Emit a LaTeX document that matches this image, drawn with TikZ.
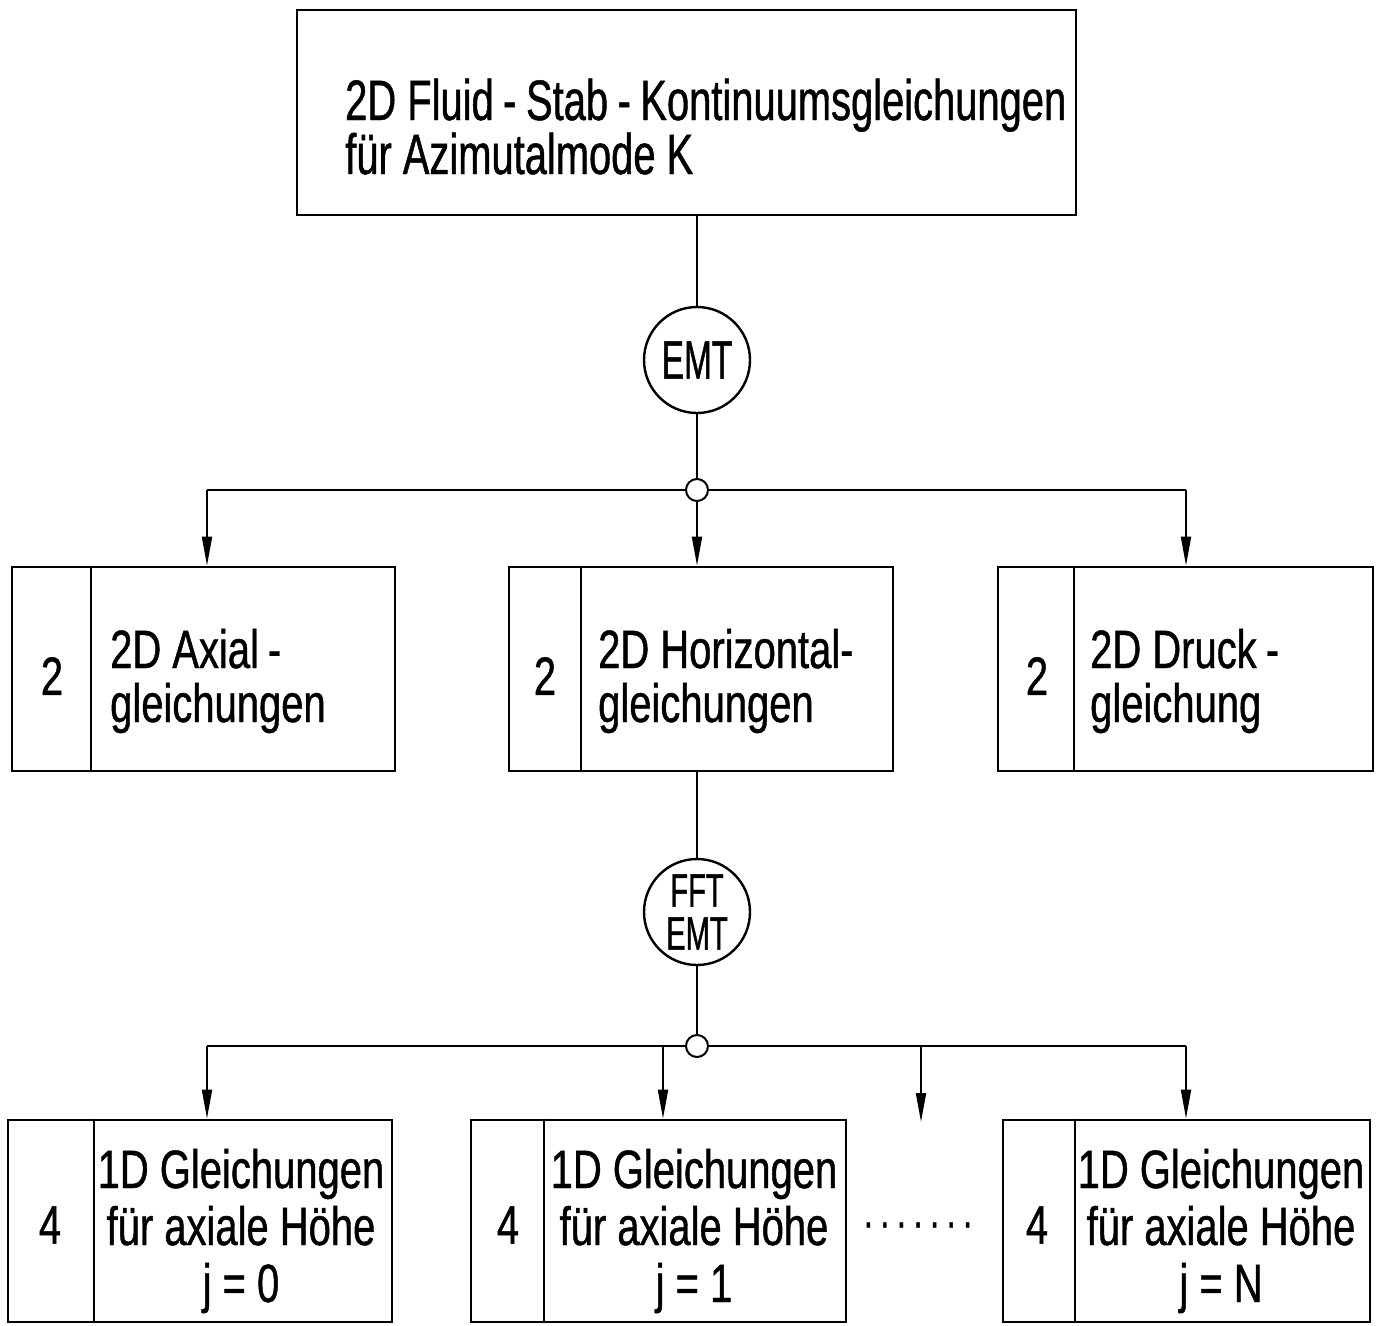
\documentclass[tikz,border=0pt]{standalone}
\usepackage{fontspec}
\setmainfont{Liberation Sans}[FakeStretch=0.74,FakeBold=0.8]
\newfontfamily\condfam{Liberation Sans}[FakeStretch=0.62,FakeBold=0.8]
\newfontfamily\topfam{Liberation Sans}[FakeStretch=0.70,FakeBold=0.8]
\usetikzlibrary{arrows.meta}
\newcommand{\fsTop}{\topfam\fontsize{57}{60}\selectfont}
\newcommand{\fsMid}{\fontsize{54}{56}\selectfont}
\newcommand{\fsCirc}{\condfam\fontsize{54}{56}\selectfont}
\newcommand{\fsCircS}{\condfam\fontsize{47}{43}\selectfont}
\begin{document}
\begin{tikzpicture}[x=1pt,y=-1pt,
  box/.style={draw, line width=2.8pt, rectangle, inner sep=0pt},
  div/.style={line width=2pt},
  conn/.style={line width=2pt},
  arr/.style={line width=2pt, -{Triangle[length=29pt,width=10pt]}},
  circ/.style={draw, circle, line width=2.4pt, minimum size=106pt, inner sep=0pt},
  junc/.style={draw, circle, line width=2pt, minimum size=22pt, inner sep=0pt, fill=white},
  txt/.style={inner sep=0pt, font=\fsMid},
  ttop/.style={inner sep=0pt, font=\fsTop, anchor=base west}]
\useasboundingbox (0,0) rectangle (1381,1325);

% top box
\node[box, minimum width=779pt, minimum height=205pt] (top) at (686.5,112.5) {};
\node[ttop] (t1) at (345,120) {2D Fluid\,-\,Stab\,-\,Kontinuumsgleichungen};
\node[ttop] (t2) at (345,174) {für Azimutalmode K};

% EMT circle
\node[circ, font=\fsCirc] (emt) at (697,360) {EMT};
\draw[conn] (emt |- top.south) -- (emt);
\node[junc] (j1) at (697,490) {};
\draw[conn] (emt) -- (j1);
\coordinate (b1L) at (207,490);
\coordinate (b1R) at (1186,490);
\draw[conn] (j1.west) -- (b1L);
\draw[conn] (j1.east) -- (b1R);

% middle boxes
\node[box, minimum width=383pt, minimum height=204pt] (bA) at (203.5,669) {};
\node[box, minimum width=384pt, minimum height=204pt] (bB) at (701,669) {};
\node[box, minimum width=375pt, minimum height=204pt] (bC) at (1185.5,669) {};
\draw[div] ([xshift=80pt]bA.north west) -- ([xshift=80pt]bA.south west);
\draw[div] ([xshift=73pt]bB.north west) -- ([xshift=73pt]bB.south west);
\draw[div] ([xshift=77pt]bC.north west) -- ([xshift=77pt]bC.south west);
\node[txt] (nA) at (52,676) {2};
\node[txt] (nB) at (545,676) {2};
\node[txt] (nC) at (1037,676) {2};
\node[txt, anchor=base west] (tA1) at (110,668) {2D Axial\,-};
\node[txt, anchor=base west] (tA2) at (110,722) {gleichungen};
\node[txt, anchor=base west] (tB1) at (598,668) {2D Horizontal-};
\node[txt, anchor=base west] (tB2) at (598,722) {gleichungen};
\node[txt, anchor=base west] (tC1) at (1090,668) {2D Druck\,-};
\node[txt, anchor=base west] (tC2) at (1090,722) {gleichung};

\draw[arr] (b1L) -- (b1L |- bA.north);
\draw[arr] (j1) -- (j1 |- bB.north);
\draw[arr] (b1R) -- (b1R |- bC.north);

% FFT/EMT circle
\node[circ, font=\fsCircS, align=center] (fft) at (697,912) {FFT\\EMT};
\draw[conn] (fft |- bB.south) -- (fft);
\node[junc] (j2) at (697,1046) {};
\draw[conn] (fft) -- (j2);
\coordinate (b2L) at (207,1046);
\coordinate (b2R) at (1186,1046);
\coordinate (b2M) at (663,1046);
\coordinate (b2X) at (921,1046);
\coordinate (xend) at (921,1122);
\draw[conn] (j2.west) -- (b2L);
\draw[conn] (j2.east) -- (b2R);

% bottom boxes
\node[box, minimum width=384pt, minimum height=202pt] (bD) at (200,1221) {};
\node[box, minimum width=375pt, minimum height=202pt] (bE) at (658.5,1221) {};
\node[box, minimum width=367pt, minimum height=202pt] (bF) at (1186.5,1221) {};
\draw[div] ([xshift=87pt]bD.north west) -- ([xshift=87pt]bD.south west);
\draw[div] ([xshift=74pt]bE.north west) -- ([xshift=74pt]bE.south west);
\draw[div] ([xshift=73pt]bF.north west) -- ([xshift=73pt]bF.south west);
\node[txt] (nD) at (50,1225) {4};
\node[txt] (nE) at (508,1225) {4};
\node[txt] (nF) at (1037,1225) {4};
\node[txt, anchor=base] (tD1) at (241,1188) {1D Gleichungen};
\node[txt, anchor=base] (tD2) at (241,1245) {für axiale Höhe};
\node[txt, anchor=base] (tD3) at (241,1302) {j = 0};
\node[txt, anchor=base] (tE1) at (694,1188) {1D Gleichungen};
\node[txt, anchor=base] (tE2) at (694,1245) {für axiale Höhe};
\node[txt, anchor=base] (tE3) at (694,1302) {j = 1};
\node[txt, anchor=base] (tF1) at (1221,1188) {1D Gleichungen};
\node[txt, anchor=base] (tF2) at (1221,1245) {für axiale Höhe};
\node[txt, anchor=base] (tF3) at (1221,1302) {j = N};
\node[inner sep=0pt, font=\fontsize{44}{44}\selectfont] (dots) at (918,1225)
  {.\hspace{7.5pt}.\hspace{7.5pt}.\hspace{7.5pt}.\hspace{7.5pt}.\hspace{7.5pt}.\hspace{7.5pt}.};

\draw[arr] (b2L) -- (b2L |- bD.north);
\draw[arr] (b2M) -- (b2M |- bE.north);
\draw[arr] (b2X) -- (xend);
\draw[arr] (b2R) -- (b2R |- bF.north);
\end{tikzpicture}
\end{document}
